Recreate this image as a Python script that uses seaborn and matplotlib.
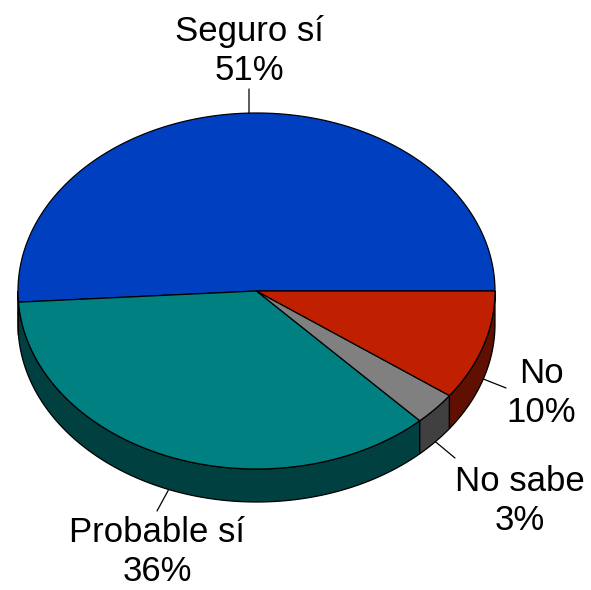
import numpy as np
import matplotlib
matplotlib.use("Agg")
import matplotlib.pyplot as plt
import seaborn as sns
from matplotlib.patches import Polygon

# data
categories = ["Seguro sí", "Probable sí", "No sabe", "No"]
shares = [51, 36, 3, 10]
top_colors = ["#0040C0", "#008080", "#808080", "#C02000"]
side_colors = ["#002060", "#004040", "#404040", "#601000"]

sns.set_theme(style="white")
plt.rcParams["font.family"] = ["Liberation Sans", "DejaVu Sans"]

# ellipse geometry in pixel space (y grows downward)
cx, cy = 256.5, 291.0
a, b = 238.5, 178.0
depth = 33.0

fig = plt.figure(figsize=(5.91, 5.90), dpi=100)
ax = fig.add_axes([0, 0, 1, 1])
ax.set_xlim(0, 591)
ax.set_ylim(590, 0)
ax.axis("off")


def arc(t0, t1, n=200, dy=0.0):
    t = np.radians(np.linspace(t0, t1, n))
    return np.column_stack([cx + a * np.cos(t), cy - b * np.sin(t) + dy])


bounds = np.concatenate([[0], np.cumsum(shares)]) / sum(shares) * 360.0

# side walls (front half only: 180..360 deg)
for i in range(len(shares)):
    t0, t1 = max(bounds[i], 180.0), min(bounds[i + 1], 360.0)
    if t1 <= t0:
        continue
    upper = arc(t0, t1)
    lower = arc(t1, t0, dy=depth)
    ax.add_patch(Polygon(np.vstack([upper, lower]), closed=True,
                         facecolor=side_colors[i], edgecolor="black", lw=0.9))

# top faces
for i in range(len(shares)):
    pts = np.vstack([[cx, cy], arc(bounds[i], bounds[i + 1])])
    ax.add_patch(Polygon(pts, closed=True, facecolor=top_colors[i],
                         edgecolor="black", lw=0.9))

# labels with leader lines
label_pos = [(249, 80), (157, 581), (520, 530), (541, 422)]
leader_end = [(249, 89), (157, 511), (455, 458), (506, 388)]
for i, name in enumerate(categories):
    mid = np.radians((bounds[i] + bounds[i + 1]) / 2)
    sx = cx + a * np.cos(mid)
    sy = cy - b * np.sin(mid)
    if np.sin(mid) < 0:
        sy += depth
    ex, ey = leader_end[i]
    ax.plot([sx, ex], [sy, ey], color="black", lw=0.9)
    lx, ly = label_pos[i]
    ax.text(lx, ly, f"{name}\n{shares[i]}%", ha="center", va="baseline",
            fontsize=25, linespacing=1.24, color="black")

fig.savefig("out.png", dpi=100)
